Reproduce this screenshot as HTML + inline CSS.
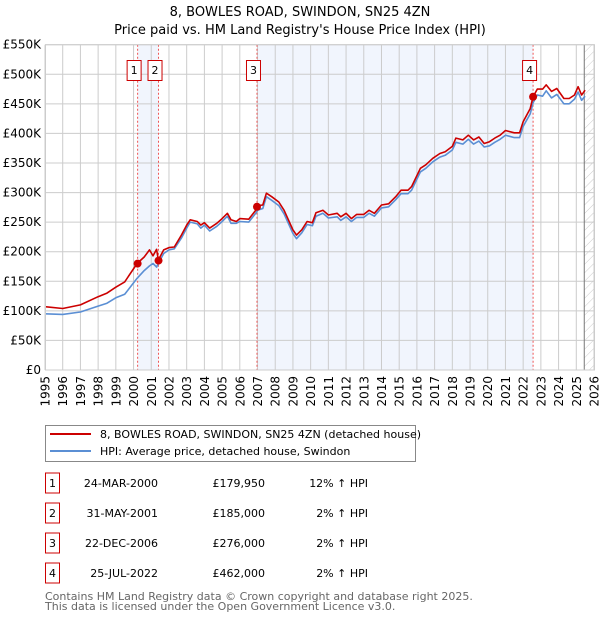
<!DOCTYPE html>
<html><head><meta charset="utf-8"><style>
body{margin:0;background:#fff;font-family:"Liberation Sans","DejaVu Sans",sans-serif;}
#wrap{position:relative;width:600px;height:620px;overflow:hidden}
</style></head><body><div id="wrap">
<svg id="svg" width="600" height="620" xmlns="http://www.w3.org/2000/svg" font-family="DejaVu Sans, Liberation Sans, sans-serif">
<defs><pattern id="hatch" width="6" height="6" patternUnits="userSpaceOnUse" patternTransform="rotate(45)"><line x1="0" y1="0" x2="0" y2="6" stroke="#ccc" stroke-width="1"/></pattern></defs>
<text x="300" y="16" text-anchor="middle" font-size="13">8, BOWLES ROAD, SWINDON, SN25 4ZN</text>
<text x="300" y="34" text-anchor="middle" font-size="13">Price paid vs. HM Land Registry's House Price Index (HPI)</text>
<g id="plot"></g>
<g>
<rect x="45.5" y="425.5" width="370" height="36" fill="#fff" stroke="#888"/>
<line x1="50" y1="434" x2="91" y2="434" stroke="#cc0000" stroke-width="2"/>
<text x="100" y="438" font-size="11">8, BOWLES ROAD, SWINDON, SN25 4ZN (detached house)</text>
<line x1="50" y1="451" x2="91" y2="451" stroke="#5b8fd4" stroke-width="2"/>
<text x="100" y="455" font-size="11">HPI: Average price, detached house, Swindon</text>
</g>
<g id="table" font-size="11"></g>
<text x="45" y="600" font-size="11" fill="#666">Contains HM Land Registry data © Crown copyright and database right 2025.</text>
<text x="45" y="610" font-size="11" fill="#666">This data is licensed under the Open Government Licence v3.0.</text>
</svg></div>
<script>
const years=[1995,1996,1997,1998,1999,2000,2001,2002,2003,2004,2005,2006,2007,2008,2009,2010,2011,2012,2013,2014,2015,2016,2017,2018,2019,2020,2021,2022,2023,2024,2025,2026];
const yTicks=[0,50000,100000,150000,200000,250000,300000,350000,400000,450000,500000,550000];
const yTickLabels=["£0","£50K","£100K","£150K","£200K","£250K","£300K","£350K","£400K","£450K","£500K","£550K"];
const dates=[1995,1996,1997,1998,1998.5,1999,1999.5,2000.2,2000.6,2000.9,2001.1,2001.3,2001.4,2001.7,2002,2002.3,2002.7,2003,2003.2,2003.6,2003.8,2004,2004.3,2004.7,2005,2005.3,2005.5,2005.8,2006,2006.5,2006.9,2007,2007.3,2007.5,2007.8,2008.2,2008.5,2009,2009.2,2009.5,2009.8,2010.1,2010.3,2010.7,2011,2011.5,2011.7,2012,2012.3,2012.6,2013,2013.3,2013.6,2014,2014.4,2014.8,2015.1,2015.5,2015.7,2016.2,2016.5,2016.9,2017.3,2017.6,2018,2018.2,2018.6,2018.9,2019.2,2019.5,2019.8,2020.1,2020.4,2020.7,2021,2021.5,2021.8,2022,2022.4,2022.56,2022.8,2023.1,2023.3,2023.6,2023.9,2024.3,2024.6,2024.9,2025.1,2025.3,2025.5];
const propertyK=[107,104,110,124,130,140,149,180,191,203,193,204,186,203,207,208,228,245,254,251,245,249,240,248,256,265,254,251,256,255,270,278,279,299,293,284,270,237,228,237,251,249,266,270,262,265,259,265,256,263,263,270,265,279,281,293,304,304,310,341,347,358,366,369,378,392,389,397,389,394,383,386,392,397,405,401,401,420,442,462,475,475,482,471,476,459,459,465,479,465,473];
const hpiK=[95,94,98,108,113,122,128,155,168,176,180,174,180,197,203,205,223,240,250,247,240,245,235,243,251,260,248,248,251,250,265,270,273,293,287,278,264,231,222,232,246,244,260,265,257,259,253,259,251,258,258,265,260,274,276,288,298,298,304,335,341,352,360,363,372,385,382,390,382,387,377,379,385,390,397,393,393,412,433,452,465,463,472,460,466,450,450,458,470,456,463];
const saleLabels=["1","2","3","4"];
const saleDates=[2000.23,2001.41,2006.97,2022.56];
const salePrices=[179950,185000,276000,462000];
const saleDateText=["24-MAR-2000","31-MAY-2001","22-DEC-2006","25-JUL-2022"];
const salePriceText=["£179,950","£185,000","£276,000","£462,000"];
const saleHpiText=["12% ↑ HPI","2% ↑ HPI","2% ↑ HPI","2% ↑ HPI"];
const hatchStart=2025.45;

const L=45,R=594,T=44.7,B=370;
const X=y=>L+(y-1995)/(2026-1995)*(R-L);
const Y=v=>B-v/550000*(B-T);
const NS="http://www.w3.org/2000/svg";
function mk(tag,attrs,parent){const e=document.createElementNS(NS,tag);for(const k in attrs)e.setAttribute(k,attrs[k]);parent.appendChild(e);return e;}
const g=document.getElementById('plot');
let e;
e=mk('rect',{x:X(saleDates[0]),y:T,width:X(saleDates[1])-X(saleDates[0]),height:B-T,fill:'#eef3fc',opacity:0.8},g);


e=mk('rect',{x:X(saleDates[2]),y:T,width:X(saleDates[3])-X(saleDates[2]),height:B-T,fill:'#eef3fc',opacity:0.8},g);


e=mk('rect',{x:X(hatchStart),y:T,width:R-X(hatchStart),height:B-T,fill:'url(#hatch)'},g);


years.forEach(y=>{
  e=mk('line',{x1:X(y),x2:X(y),y1:T,y2:B,stroke:'#ccc','stroke-width':1},g);
  
  
  const tx=X(y)+4.5, ty=B+6;
  e=mk('text',{x:tx,y:ty,'text-anchor':'end','font-size':12,transform:'rotate(-90 '+tx+' '+ty+')'},g);
  e.textContent=y;
  
  
});
yTicks.forEach((v,i)=>{
  e=mk('line',{x1:L,x2:R,y1:Y(v),y2:Y(v),stroke:'#ccc','stroke-width':1},g);
  
  
  e=mk('text',{x:L-4,y:Y(v)+4,'text-anchor':'end','font-size':12},g);
  e.textContent=yTickLabels[i];
  
  
});
e=mk('line',{x1:X(hatchStart),x2:X(hatchStart),y1:T,y2:B,stroke:'#777','stroke-width':1},g);


saleDates.forEach((d,i)=>{
  e=mk('line',{x1:X(d),x2:X(d),y1:T,y2:B,stroke:'#e55','stroke-width':1,'stroke-dasharray':'2,2'},g);
  
  
});
function path(vals,col,name){
  const d=dates.map((t,i)=>(i?'L':'M')+X(t).toFixed(1)+','+Y(vals[i]*1000).toFixed(1)).join('');
  const p=mk('path',{d:d,fill:'none',stroke:col,'stroke-width':1.6,'stroke-linejoin':'round'},g);
  
  
}
path(hpiK,'#5b8fd4','hpi-line');
path(propertyK,'#cc0000','property-line');
saleDates.forEach((d,i)=>{
  e=mk('circle',{cx:X(d),cy:Y(salePrices[i]),r:4,fill:'#cc0000'},g);
  
  
  e=mk('rect',{x:X(d)-10.5,y:60.5,width:14,height:20,fill:'#fff',stroke:'#cc0000'},g);
  
  
  e=mk('text',{x:X(d)-3.5,y:74,'text-anchor':'middle','font-size':11},g);
  e.textContent=saleLabels[i];
  
  
});
const tb=document.getElementById('table');
saleLabels.forEach((s,i)=>{
  const cy=483+i*30;
  e=mk('rect',{x:45.5,y:cy-10,width:14,height:20,fill:'#fff',stroke:'#cc0000'},tb);
  
  
  e=mk('text',{x:52.5,y:cy+4,'text-anchor':'middle'},tb);e.textContent=s;
  
  
  e=mk('text',{x:158,y:cy+4,'text-anchor':'end'},tb);e.textContent=saleDateText[i];
  
  
  e=mk('text',{x:265,y:cy+4,'text-anchor':'end'},tb);e.textContent=salePriceText[i];
  
  
  e=mk('text',{x:368,y:cy+4,'text-anchor':'end'},tb);e.textContent=saleHpiText[i];
  
  
});
e=mk('rect',{x:L+0.5,y:T,width:R-L,height:B-T,fill:'none',stroke:'#ccc'},g);


</script></body></html>
